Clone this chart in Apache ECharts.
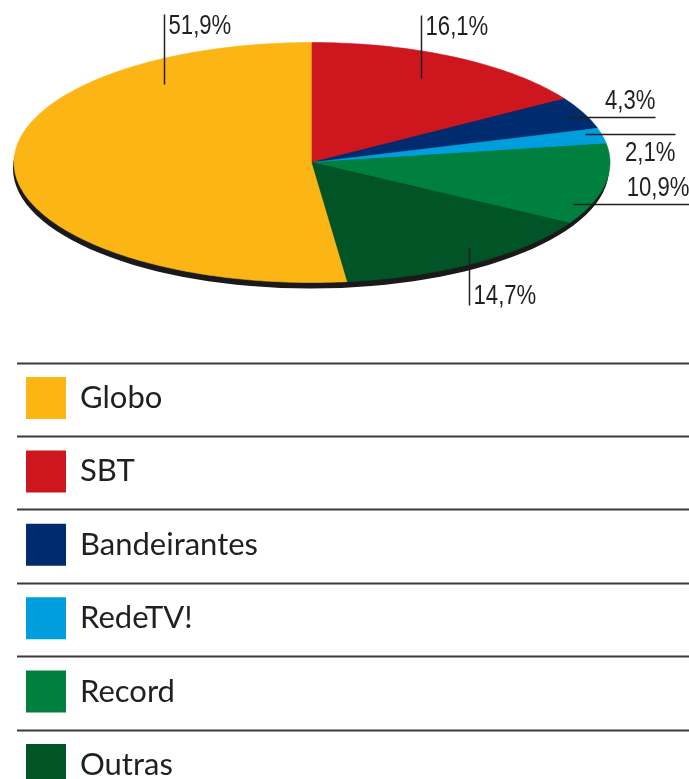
<!DOCTYPE html>
<html>
<head>
<meta charset="utf-8">
<script src="https://cdn.jsdelivr.net/npm/echarts@6/dist/echarts.min.js"></script>
<style>
  html, body { margin: 0; padding: 0; background: #fff; }
  #main { width: 689px; height: 779px; }
</style>
</head>
<body>
<div id="main"></div>
<script>
// dados: participação de audiência por emissora (%)
var names  = ['Globo', 'SBT', 'Bandeirantes', 'RedeTV!', 'Record', 'Outras'];
var shares = [51.9, 16.1, 4.3, 2.1, 10.9, 14.7];
var colors = ['#fbb616', '#ce161f', '#002b6e', '#009edc', '#00803e', '#005426'];

// geometria da "pizza" elíptica
var CX = 312, CY = 162.5, RX = 298, RY = 120;
var TEXT = '#231f20';

// onde fica cada rótulo: fração do ângulo da fatia, fração do raio, direção e tamanho da linha
var labelLayout = [
  { frac: 0.80, r: 0.82, dir: 'up',    len: 70 },
  { frac: 0.475, r: 0.79, dir: 'up',   len: 63 },
  { frac: 0.53, r: 0.936, dir: 'right', len: 88, text: 'above' },
  { frac: 0.27, r: 0.946, dir: 'right', len: 90, text: 'below' },
  { frac: 0.78, r: 0.942, dir: 'right', len: 116, text: 'above' },
  { frac: 0.44, r: 0.884, dir: 'down',  len: 57 }
];

// Globo termina no topo, as demais seguem no sentido horário
var starts = [];
var acc = -shares[0];
for (var i = 0; i < shares.length; i++) {
  starts.push(acc);
  acc += shares[i];
}

var pt = function (deg, f) {
  var t = deg * Math.PI / 180;
  return [CX + RX * f * Math.sin(t), CY - RY * f * Math.cos(t)];
};

var sectorPoints = function (a0, a1) {
  var pts = [[CX, CY]];
  var n = Math.max(2, Math.ceil(a1 - a0));
  for (var k = 0; k <= n; k++) {
    pts.push(pt(a0 + (a1 - a0) * k / n, 1));
  }
  return pts;
};

var fmt = function (v) {
  return v.toFixed(1).replace('.', ',') + '%';
};

var series = [];

// sombra escura embaixo
series.push({
  type: 'custom', name: 'sombra', coordinateSystem: 'none', z: 1, silent: true,
  data: [[0]],
  renderItem: function () {
    return { type: 'ellipse', shape: { cx: CX - 1, cy: CY + 6, rx: RX, ry: RY }, style: { fill: '#1a1a1a' } };
  }
});

// uma série por emissora (para a legenda)
names.forEach(function (name, i) {
  series.push({
    type: 'custom', name: name, coordinateSystem: 'none', z: 2, silent: true,
    itemStyle: { color: colors[i] },
    data: [[starts[i], shares[i]]],
    renderItem: function (params, api) {
      var a0 = api.value(0) * 3.6, a1 = (api.value(0) + api.value(1)) * 3.6;
      return {
        type: 'polygon',
        shape: { points: sectorPoints(a0, a1) },
        style: { fill: colors[i], stroke: colors[i], lineWidth: 0.6 }
      };
    }
  });
});

// rótulos com linhas de chamada
series.push({
  type: 'custom', name: 'rotulos', coordinateSystem: 'none', z: 3, silent: true,
  data: names.map(function (n, i) { return [starts[i], shares[i], i]; }),
  renderItem: function (params, api) {
    var i = api.value(2);
    var L = labelLayout[i];
    var a = (api.value(0) + api.value(1) * L.frac) * 3.6;
    var p = pt(a, L.r);
    var ax = Math.round(p[0]) + 0.5, ay = Math.round(p[1]) + 0.5;
    var x2 = ax, y2 = ay, tx, ty, align = 'left', va = 'top';
    if (L.dir === 'up') {
      y2 = ay - L.len; tx = ax + 4; ty = y2 - 1;
    } else if (L.dir === 'down') {
      y2 = ay + L.len; tx = ax + 4; ty = y2 + 5; va = 'bottom';
    } else {
      x2 = ax + L.len; tx = x2; align = 'right';
      if (L.text === 'above') { ty = ay - 2; va = 'bottom'; } else { ty = ay + 6; va = 'top'; }
    }
    return {
      type: 'group',
      children: [
        { type: 'line', shape: { x1: ax, y1: ay, x2: x2, y2: y2 }, style: { stroke: TEXT, lineWidth: 1.5 } },
        { type: 'text', x: tx, y: ty, scaleX: 0.82,
          style: {
            text: fmt(api.value(1)), x: 0, y: 0, align: align, verticalAlign: va,
            fontFamily: '"Liberation Sans", sans-serif', fontSize: 27, fill: TEXT
        } }
      ]
    };
  }
});

// linhas horizontais da legenda
var ROW0 = 362.5, ROW_STEP = 73.4;
var graphics = names.map(function (n, i) {
  var y = Math.round(ROW0 + i * ROW_STEP) + 0.5;
  return { type: 'line', shape: { x1: 17, y1: y, x2: 689, y2: y }, style: { stroke: '#3a3a3a', lineWidth: 2 }, silent: true };
});

var myChart = echarts.init(document.getElementById('main'), null, { renderer: 'canvas' });
var option = {
  animation: false,
  backgroundColor: '#fff',
  legend: {
    orient: 'vertical', left: 26, top: 377, height: 600, padding: 0,
    itemWidth: 40, itemHeight: 42, itemGap: ROW_STEP - 42,
    icon: 'rect', selectedMode: false,
    data: names,
    textStyle: { fontFamily: 'Lato, "Open Sans", sans-serif', fontSize: 31, color: TEXT, padding: [0, 0, 0, 9] }
  },
  graphic: graphics,
  series: series
};
myChart.setOption(option);
</script>
</body>
</html>
